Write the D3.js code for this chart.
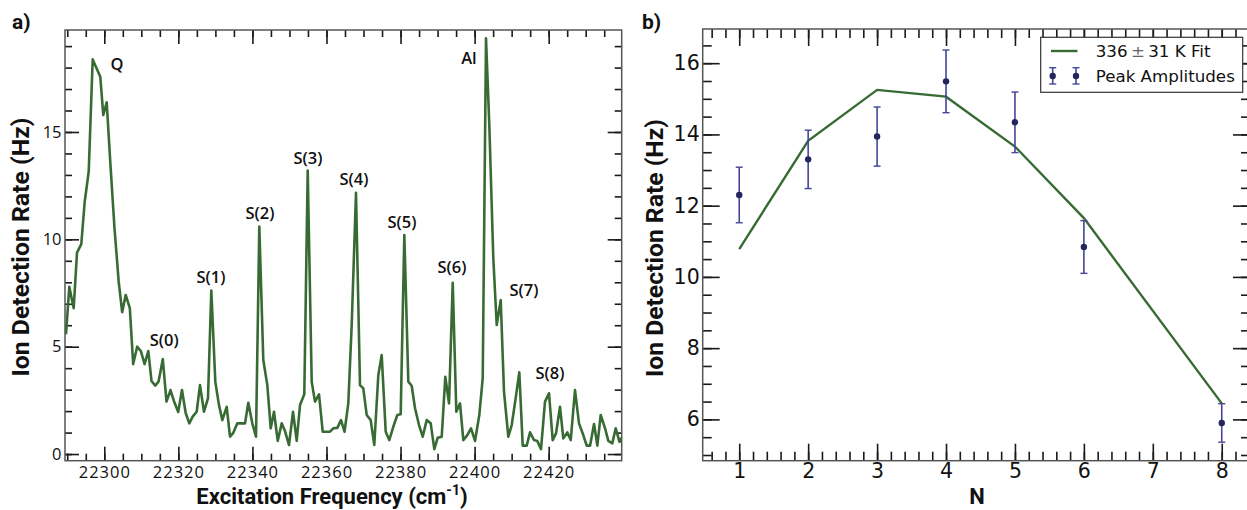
<!DOCTYPE html>
<html>
<head>
<meta charset="utf-8">
<script src="https://cdn.jsdelivr.net/npm/d3@7"></script>
<style>
  body { margin: 0; background: #fff; }
  svg { display: block; }
</style>
</head>
<body>
<svg id="chart" width="1247" height="510"></svg>
<script>
// Panel a: excitation spectrum
const freq = [
  22289.66, 22290.55, 22291.74, 22292.63, 22293.79, 22294.71, 22295.79, 22296.87, 22298.92, 22299.73,
  22300.65, 22301.67, 22302.75, 22303.89, 22304.83, 22305.78, 22306.89, 22307.80, 22308.88, 22309.86,
  22310.88, 22311.88, 22312.75, 22313.75, 22314.64, 22315.80, 22316.80, 22317.88, 22318.90, 22319.96,
  22320.98, 22321.98, 22322.95, 22323.87, 22324.95, 22325.84, 22326.92, 22328.00, 22328.90, 22329.98,
  22330.97, 22331.87, 22333.05, 22333.95, 22334.84, 22335.92, 22336.92, 22338.00, 22338.89, 22339.97,
  22340.97, 22341.86, 22342.94, 22344.02, 22344.94, 22345.83, 22346.83, 22347.91, 22348.80, 22349.88,
  22350.96, 22351.96, 22352.85, 22354.01, 22354.93, 22356.01, 22356.90, 22357.98, 22358.98, 22359.95,
  22360.95, 22361.84, 22362.92, 22363.92, 22364.87, 22365.89, 22366.81, 22367.97, 22369.05, 22369.94,
  22370.86, 22371.94, 22372.91, 22374.00, 22374.91, 22375.99, 22376.96, 22378.04, 22379.13, 22380.04,
  22381.02, 22382.10, 22383.01, 22383.91, 22384.99, 22385.98, 22387.07, 22388.14, 22389.12, 22390.03,
  22391.12, 22392.09, 22393.09, 22394.09, 22395.06, 22396.06, 22396.95, 22398.03, 22399.03, 22400.11,
  22401.27, 22402.19, 22403.08, 22403.97, 22405.05, 22405.97, 22407.05, 22407.94, 22409.10, 22410.02,
  22411.05, 22412.07, 22412.99, 22414.07, 22414.96, 22416.04, 22416.93, 22417.93, 22419.01, 22420.09,
  22421.09, 22421.98, 22423.06, 22423.95, 22425.03, 22425.95, 22427.11, 22428.19, 22429.19, 22430.27,
  22431.17, 22432.25, 22433.14, 22434.05, 22435.22, 22436.11, 22437.19, 22438.10, 22439.13, 22439.67
];
const rate = [
  5.58, 7.79, 6.79, 9.38, 9.78, 11.75, 13.15, 18.38, 17.57, 15.79,
  16.38, 13.46, 10.53, 8.03, 6.61, 7.41, 6.80, 4.19, 5.00, 4.80,
  4.19, 4.80, 3.40, 3.19, 3.37, 4.42, 2.44, 2.98, 2.42, 1.96,
  2.98, 1.91, 1.43, 1.74, 1.97, 3.21, 1.97, 2.59, 7.61, 3.37,
  2.28, 1.58, 2.20, 0.81, 0.99, 1.43, 1.43, 1.43, 2.39, 1.43,
  0.81, 10.59, 4.38, 3.21, 1.20, 1.97, 0.61, 1.43, 1.07, 0.42,
  1.97, 0.61, 2.28, 2.78, 13.20, 3.37, 2.44, 2.78, 1.04, 1.04,
  1.04, 1.20, 1.22, 1.58, 1.04, 2.36, 6.01, 12.17, 3.21, 3.06,
  1.82, 1.58, 0.42, 3.68, 4.61, 1.04, 0.65, 1.27, 1.82, 1.85,
  10.20, 3.37, 3.18, 2.13, 1.35, 0.81, 1.58, 1.43, 0.23, 0.76,
  0.81, 3.60, 2.36, 7.98, 1.97, 2.36, 0.65, 0.88, 1.20, 0.61,
  1.82, 3.53, 19.36, 15.32, 9.12, 6.01, 7.17, 2.90, 0.81, 1.35,
  2.56, 3.81, 0.39, 0.39, 1.01, 0.65, 0.61, 0.23, 2.44, 2.83,
  0.65, 0.96, 2.20, 0.73, 1.01, 0.65, 2.98, 1.43, 0.96, 0.39,
  0.39, 1.40, 0.39, 1.82, 1.20, 0.61, 0.50, 1.20, 0.57, 0.75
];
const peakNames = ["Q", "S(0)", "S(1)", "S(2)", "S(3)", "S(4)", "S(5)", "S(6)", "Al", "S(7)", "S(8)"];
const peakFreq = [22303.46, 22316.17, 22328.81, 22342.04, 22354.99, 22367.41, 22380.37, 22393.87, 22398.46, 22413.31, 22420.34];
const peakRate = [18.16, 5.31, 8.24, 11.22, 13.79, 12.81, 10.81, 8.71, 18.44, 7.64, 3.77];
const freqTicks = [22300, 22320, 22340, 22360, 22380, 22400, 22420];
const rateTicks = [0, 5, 10, 15];

// Panel b: peak amplitudes vs N
const levels = [1, 2, 3, 4, 5, 6, 8];
const amplitude = [12.30, 13.30, 13.94, 15.49, 14.34, 10.84, 5.90];
const ampError = [0.78, 0.82, 0.83, 0.88, 0.85, 0.74, 0.54];
const fitValues = [10.78, 13.82, 15.25, 15.06, 13.66, 11.65, 6.45];
const nTicks = [1, 2, 3, 4, 5, 6, 7, 8];
const ampTicks = [6, 8, 10, 12, 14, 16];

const green = '#386b34';
const navy = '#24245e';
const barBlue = '#45459a';
const labelFont = 'Roboto, "Open Sans", sans-serif';
const mplFont = '"DejaVu Sans", sans-serif';

const svg = d3.select('#chart');

// Helpers

function range(a, b, step) {
  const out = [];
  for (let v = a; v <= b + 1e-9; v += step) out.push(+v.toFixed(6));
  return out;
}

function drawFrame(x, y, o) {
  const [x0, x1] = x.range();
  const [y0, y1] = y.range(); // y0 bottom, y1 top
  const g = svg.append('g');

  const add = (axis, tx, ty, vals, size, fmt, pad) => {
    const a = g.append('g')
      .attr('transform', `translate(${tx},${ty})`)
      .call(axis.tickValues(vals).tickSize(-size).tickSizeOuter(0)
        .tickPadding(pad || 3).tickFormat(fmt || (() => '')));
    a.select('.domain').remove();
    a.selectAll('line').attr('stroke', '#1a1a1a').attr('stroke-width', o.tickW);
    return a;
  };

  // minor ticks
  add(d3.axisBottom(x), 0, y0, o.xMinor, o.minor);
  add(d3.axisTop(x), 0, y1, o.xMinor, o.minor);
  add(d3.axisLeft(y), x0, 0, o.yMinor, o.minor);
  add(d3.axisRight(y), x1, 0, o.yMinor, o.minor);

  // major ticks
  const bx = add(d3.axisBottom(x), 0, y0, o.xMajor, o.major, o.xFmt, o.xPad);
  add(d3.axisTop(x), 0, y1, o.xMajor, o.major);
  const ly = add(d3.axisLeft(y), x0, 0, o.yMajor, o.major, o.yFmt, o.yPad);
  add(d3.axisRight(y), x1, 0, o.yMajor, o.major);

  bx.selectAll('text')
    .attr('font-family', o.tickFont).attr('font-size', o.tickSize)
    .attr('fill', '#111').style('letter-spacing', o.xSpacing || '0px');
  ly.selectAll('text')
    .attr('font-family', o.tickFont).attr('font-size', o.tickSize)
    .attr('fill', '#111');

  g.append('rect')
    .attr('x', x0).attr('y', y1)
    .attr('width', x1 - x0).attr('height', y0 - y1)
    .attr('fill', 'none')
    .attr('stroke', '#555')
    .attr('stroke-width', 1.5);
}

function yTitle(cx, cy, len) {
  svg.append('text')
    .attr('transform', `translate(${cx},${cy}) rotate(-90)`)
    .attr('text-anchor', 'middle')
    .attr('font-family', labelFont)
    .attr('font-weight', 700)
    .attr('font-size', 23)
    .attr('fill', '#111')
    .attr('textLength', len)
    .attr('lengthAdjust', 'spacingAndGlyphs')
    .text('Ion Detection Rate (Hz)');
}

function panelTag(x, y, t) {
  svg.append('text')
    .attr('x', x).attr('y', y)
    .attr('font-family', labelFont)
    .attr('font-weight', 700)
    .attr('font-size', 21)
    .attr('fill', '#111')
    .text(t);
}

// ---------- Panel a ----------
const xA = d3.scaleLinear([22289.39, 22439.72], [65, 621.7]);
const yA = d3.scaleLinear([-0.31, 19.75], [460.7, 30]);

drawFrame(xA, yA, {
  xMajor: freqTicks, xMinor: range(22290, 22435, 5),
  yMajor: rateTicks, yMinor: range(0, 19, 1),
  major: 14, minor: 7, tickW: 1.6,
  xFmt: d3.format('d'), yFmt: d3.format('d'),
  xPad: 5.8, yPad: 3.5,
  tickFont: '"Open Sans", sans-serif', tickSize: 16.5, xSpacing: '1px'
});

svg.append('defs').append('clipPath').attr('id', 'clipA')
  .append('rect').attr('x', 65).attr('y', 30).attr('width', 556.7).attr('height', 430.7);

const spectrum = freq.map((f, i) => [f, rate[i]]);
svg.append('path')
  .datum(spectrum)
  .attr('clip-path', 'url(#clipA)')
  .attr('fill', 'none')
  .attr('stroke', green)
  .attr('stroke-width', 2.6)
  .attr('stroke-linejoin', 'round')
  .attr('d', d3.line().x(d => xA(d[0])).y(d => yA(d[1])));

svg.append('g').selectAll('text')
  .data(peakNames)
  .join('text')
  .attr('x', (d, i) => xA(peakFreq[i]))
  .attr('y', (d, i) => yA(peakRate[i]))
  .attr('dy', '0.35em')
  .attr('text-anchor', 'middle')
  .attr('font-family', '"Open Sans", sans-serif')
  .attr('font-weight', 600)
  .attr('font-size', 16.5)
  .attr('fill', '#111')
  .text(d => d);

yTitle(29, 247, 259);

const xTitleA = svg.append('text')
  .attr('x', 332).attr('y', 504)
  .attr('text-anchor', 'middle')
  .attr('font-family', labelFont)
  .attr('font-weight', 700)
  .attr('font-size', 22)
  .attr('fill', '#111');
xTitleA.append('tspan').text('Excitation Frequency (cm');
xTitleA.append('tspan').attr('dy', -9).attr('font-size', 14).text('-1');
xTitleA.append('tspan').attr('dy', 9).text(')');

panelTag(12, 29, 'a)');

// ---------- Panel b ----------
const xB = d3.scaleLinear([0.47, 8.41], [702.7, 1250]);
const yB = d3.scaleLinear([4.84, 16.96], [460.7, 29]);

drawFrame(xB, yB, {
  xMajor: nTicks, xMinor: range(0.6, 8.4, 0.2),
  yMajor: ampTicks, yMinor: range(5, 16.5, 0.5),
  major: 17, minor: 9, tickW: 1.6,
  xFmt: d3.format('d'), yFmt: d3.format('d'),
  xPad: 3, yPad: 3,
  tickFont: mplFont, tickSize: 20.5
});

svg.append('path')
  .datum(levels.map((n, i) => [n, fitValues[i]]))
  .attr('fill', 'none')
  .attr('stroke', green)
  .attr('stroke-width', 2.4)
  .attr('d', d3.line().x(d => xB(d[0])).y(d => yB(d[1])));

const pts = svg.append('g').selectAll('g')
  .data(levels)
  .join('g');
pts.append('line')
  .attr('x1', d => xB(d)).attr('x2', d => xB(d))
  .attr('y1', (d, i) => yB(amplitude[i] - ampError[i]))
  .attr('y2', (d, i) => yB(amplitude[i] + ampError[i]))
  .attr('stroke', barBlue).attr('stroke-width', 1.6);
for (const sgn of [-1, 1]) {
  pts.append('line')
    .attr('x1', d => xB(d) - 3.5).attr('x2', d => xB(d) + 3.5)
    .attr('y1', (d, i) => yB(amplitude[i] + sgn * ampError[i]))
    .attr('y2', (d, i) => yB(amplitude[i] + sgn * ampError[i]))
    .attr('stroke', barBlue).attr('stroke-width', 1.4);
}
pts.append('circle')
  .attr('cx', d => xB(d))
  .attr('cy', (d, i) => yB(amplitude[i]))
  .attr('r', 3.2)
  .attr('fill', navy);

// Legend
const lg = svg.append('g');
lg.append('rect')
  .attr('x', 1040.7).attr('y', 37.3)
  .attr('width', 202).attr('height', 55)
  .attr('fill', '#fff')
  .attr('stroke', '#333')
  .attr('stroke-width', 1.2);
lg.append('line')
  .attr('x1', 1051).attr('x2', 1077.5)
  .attr('y1', 51).attr('y2', 51)
  .attr('stroke', green).attr('stroke-width', 2.4);
for (const mx of [1052.7, 1076]) {
  lg.append('line').attr('x1', mx).attr('x2', mx).attr('y1', 67.7).attr('y2', 84)
    .attr('stroke', barBlue).attr('stroke-width', 1.6);
  lg.append('line').attr('x1', mx - 3.5).attr('x2', mx + 3.5).attr('y1', 67.7).attr('y2', 67.7)
    .attr('stroke', barBlue).attr('stroke-width', 1.4);
  lg.append('line').attr('x1', mx - 3.5).attr('x2', mx + 3.5).attr('y1', 84).attr('y2', 84)
    .attr('stroke', barBlue).attr('stroke-width', 1.4);
  lg.append('circle').attr('cx', mx).attr('cy', 76).attr('r', 3.2).attr('fill', navy);
}
const fitText = lg.append('text')
  .attr('x', 1095.7).attr('y', 51).attr('dy', '0.35em')
  .attr('font-family', mplFont).attr('font-size', 16.7).attr('fill', '#111');
fitText.append('tspan').text('336');
fitText.append('tspan').attr('fill', '#666').text('\u2009\u00b1\u2009');
fitText.append('tspan').text('31 K Fit');
lg.append('text')
  .attr('x', 1095.7).attr('y', 76).attr('dy', '0.35em')
  .attr('font-family', mplFont).attr('font-size', 16.7).attr('fill', '#111')
  .text('Peak Amplitudes');

yTitle(663, 248, 258);

svg.append('text')
  .attr('x', 977).attr('y', 504)
  .attr('text-anchor', 'middle')
  .attr('font-family', labelFont)
  .attr('font-weight', 700)
  .attr('font-size', 22)
  .attr('fill', '#111')
  .text('N');

panelTag(642, 29, 'b)');
</script>
</body>
</html>
